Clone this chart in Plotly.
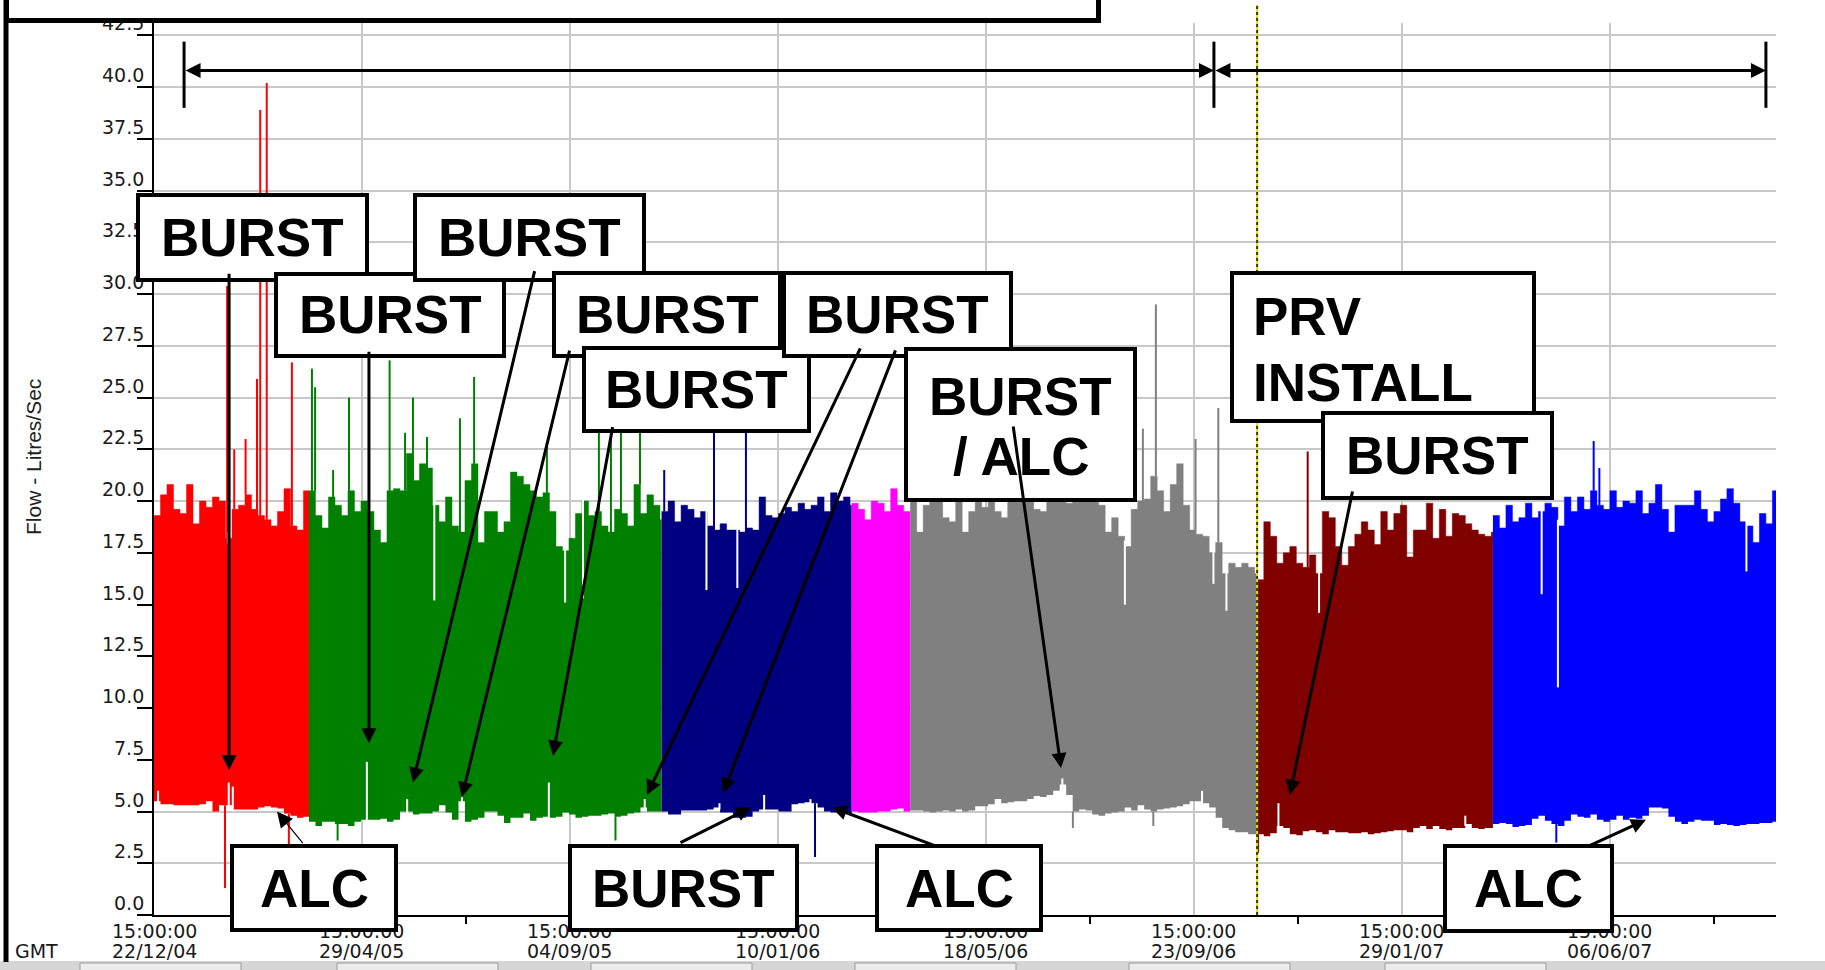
import datetime as dt
import plotly.graph_objects as go

# ---------------------------------------------------------------- time frame
AXIS_START = "2004-12-22 15:00"
AXIS_END = "2007-09-16 20:00"
BIN_DAYS = 4  # each flow bar summarises four days of logger data

tick_dates = ["2004-12-22 15:00", "2005-04-29 15:00", "2005-09-04 15:00",
              "2006-01-10 15:00", "2006-05-18 15:00", "2006-09-23 15:00",
              "2007-01-29 15:00", "2007-06-06 15:00"]
flow_ticks = [0.0, 2.5, 5.0, 7.5, 10.0, 12.5, 15.0, 17.5, 20.0, 22.5,
              25.0, 27.5, 30.0, 32.5, 35.0, 37.5, 40.0, 42.5]

# ---------------------------------------------------------------- periods
segment_starts = ["2004-12-22 15:00", "2005-03-28 00:00", "2005-10-31 00:00",
                  "2006-02-25 00:00", "2006-04-02 00:00", "2006-11-01 15:00",
                  "2007-03-26 15:00"]
segment_ends = segment_starts[1:] + [AXIS_END]
segment_colors = ["#ff0000", "#008000", "#000080", "#ff00ff",
                  "#808080", "#800000", "#0000ff"]

# daytime peak flow (l/s) per 4-day bar
red_peak = [19.3, 20.3, 20.8, 19.6, 19.4, 20.8, 18.9, 20.0, 19.7, 20.2, 20.0, 18.2,
            19.6, 19.8, 20.3, 19.6, 19.3, 19.1, 18.8, 19.5, 20.6, 18.8, 18.6, 20.5]
green_peak = [20.5, 19.3, 18.7, 20.2, 19.8, 19.3, 20.5, 19.5, 20.0, 19.5, 18.6, 18.0,
              20.5, 20.6, 20.5, 22.3, 21.0, 21.8, 21.6, 19.8, 19.0, 20.2, 18.8, 18.5,
              21.0, 21.8, 18.0, 19.5, 19.5, 18.5, 19.0, 21.4, 21.2, 20.8, 20.5, 20.2,
              20.4, 19.5, 17.8, 17.6, 18.2, 19.4, 20.0, 19.3, 19.5, 18.8, 18.5, 19.6,
              19.4, 18.8, 20.8, 19.4, 20.3, 19.8, 19.1]
navy_peak = [19.5, 20.0, 19.0, 19.8, 19.6, 19.2, 19.5, 18.8, 18.6, 18.9, 18.6, 18.6,
             18.5, 18.7, 18.6, 20.2, 19.3, 19.2, 19.4, 19.7, 19.5, 19.9, 19.6, 19.8,
             20.2, 19.5, 20.4, 20.0, 20.2, 19.8]
magenta_peak = [19.9, 19.6, 19.1, 20.0, 19.9, 19.5, 20.6, 19.8, 19.5]
grey_peak = [20.5, 18.5, 19.8, 20.5, 20.5, 19.2, 19.0, 20.5, 18.5, 19.5, 20.5, 19.7,
             20.4, 19.5, 19.2, 20.5, 20.8, 20.5, 20.8, 19.6, 19.5, 20.5, 20.8, 20.6,
             19.9, 20.7, 20.9, 20.6, 20.4, 19.8, 18.5, 19.2, 18.3, 17.8, 19.6, 20.0,
             20.1, 21.2, 20.5, 19.5, 20.8, 21.8, 19.8, 18.6, 18.4, 18.3, 17.5, 18.0,
             16.5, 17.0, 16.8, 17.0, 16.8, 16.5]
maroon_peak = [16.2, 19.0, 18.3, 17.0, 17.5, 17.8, 17.0, 16.8, 17.4, 16.5, 19.5, 19.2,
               17.8, 16.9, 17.8, 18.4, 19.0, 18.6, 17.9, 19.5, 18.6, 19.4, 19.8, 17.3,
               18.6, 18.6, 19.9, 18.2, 19.6, 18.3, 19.4, 19.3, 18.9, 18.6, 18.4, 18.3,
               18.5]
blue_peak = [19.3, 18.7, 19.8, 19.0, 19.2, 19.9, 19.2, 19.5, 19.9, 19.7, 18.8, 20.2,
             19.5, 20.2, 19.6, 20.5, 19.8, 19.6, 20.5, 19.7, 20.0, 19.9, 20.5, 19.4,
             19.9, 20.8, 19.6, 18.5, 19.8, 19.8, 19.8, 20.5, 19.6, 19.0, 19.5, 20.1,
             20.6, 19.9, 19.0, 18.8, 18.0, 19.4, 18.9, 20.5]

# minimum night flow (l/s) per 4-day bar
red_night = [5.5, 5.35, 5.35, 5.3, 5.3, 5.3, 5.3, 5.35, 5.5, 5.0, 5.3, 5.3,
             5.1, 5.1, 5.1, 5.1, 5.2, 5.25, 5.2, 5.15, 4.9, 4.8, 4.7, 4.75]
green_night = [4.5, 4.3, 4.5, 4.5, 4.4, 4.4, 4.3, 4.5, 4.6, 4.6, 4.6, 4.65,
               4.5, 4.6, 5.0, 5.0, 4.85, 4.9, 4.9, 5.0, 5.3, 4.95, 4.6, 5.5,
               4.5, 4.6, 4.7, 5.0, 5.0, 4.8, 4.45, 4.7, 4.7, 4.9, 4.55, 4.7,
               4.75, 4.7, 4.75, 4.95, 4.85, 4.7, 4.75, 4.8, 4.8, 4.85, 4.9, 4.75,
               4.8, 4.9, 4.95, 5.2, 5.0, 5.0, 5.0]
navy_night = [5.0, 4.85, 4.85, 5.05, 5.05, 5.05, 5.05, 5.1, 5.2, 4.95, 4.95, 4.7,
              4.7, 4.75, 5.0, 5.1, 5.1, 5.1, 5.0, 5.0, 5.35, 5.4, 5.45, 5.4,
              5.2, 5.0, 4.95, 4.9, 4.9, 4.9]
magenta_night = [5.0, 4.95, 4.95, 4.95, 5.0, 5.0, 5.1, 5.15, 5.0]
grey_night = [5.05, 5.05, 5.0, 4.95, 5.0, 5.05, 5.0, 5.1, 5.0, 5.05, 5.25, 5.25,
              5.35, 5.6, 5.4, 5.45, 5.5, 5.5, 5.6, 5.75, 5.7, 5.8, 6.0, 6.3,
              5.8, 5.0, 5.1, 5.05, 4.85, 4.8, 4.9, 4.95, 5.0, 5.2, 5.05, 5.3,
              5.1, 5.0, 5.1, 5.15, 5.2, 5.25, 5.35, 5.5, 5.5, 5.4, 5.2, 4.7,
              4.2, 4.1, 4.0, 4.0, 3.9, 3.9]
maroon_night = [3.9, 3.8, 3.95, 4.3, 4.2, 3.9, 3.85, 4.05, 4.1, 4.0, 3.9, 4.1,
                4.0, 4.0, 3.95, 3.95, 4.0, 3.9, 3.95, 4.0, 4.05, 4.1, 4.1, 4.0,
                4.2, 4.3, 4.15, 4.3, 4.15, 4.1, 4.2, 4.2, 4.4, 4.2, 4.15, 4.2,
                4.2]
blue_night = [4.4, 4.45, 4.4, 4.25, 4.3, 4.35, 4.65, 4.8, 4.55, 4.4, 4.3, 4.55,
              4.85, 4.75, 4.7, 4.85, 4.6, 4.5, 4.6, 4.8, 4.6, 4.7, 4.65, 4.8,
              5.2, 5.2, 5.15, 4.75, 4.5, 4.4, 4.5, 4.6, 4.55, 4.55, 4.35, 4.4,
              4.35, 4.3, 4.35, 4.4, 4.4, 4.45, 4.45, 4.5]

peak_flow = [red_peak, green_peak, navy_peak, magenta_peak, grey_peak, maroon_peak, blue_peak]
night_flow = [red_night, green_night, navy_night, magenta_night, grey_night, maroon_night, blue_night]

# short-lived peaks above the daily maximum
spike_dates = ["2005-02-05 15:00", "2005-02-10 00:00", "2005-02-17 00:00", "2005-02-24 00:00",
               "2005-02-26 00:00", "2005-03-02 00:00", "2005-03-17 12:00",
               "2005-03-29 20:00", "2005-03-31 18:00", "2005-04-11 20:00", "2005-04-21 15:00",
               "2005-05-16 15:00", "2005-05-26 03:00", "2005-05-31 00:00", "2005-06-08 15:00",
               "2005-06-28 22:00", "2005-07-07 15:00", "2005-08-21 10:00", "2005-09-22 10:00",
               "2005-09-29 20:00", "2005-10-06 00:00", "2005-10-17 17:00",
               "2005-11-01 15:00", "2005-12-02 06:00", "2005-12-21 22:00",
               "2006-08-23 05:00", "2006-08-31 05:00", "2006-09-24 15:00", "2006-10-08 15:00",
               "2006-12-02 15:00", "2007-05-27 15:00", "2007-05-31 03:00"]
spike_flows = [30.4, 22.5, 23.0, 25.9, 38.9, 40.2, 26.7,
               26.4, 25.5, 21.5, 25.0, 26.8, 23.3, 25.0, 23.1, 24.0, 26.0, 22.8, 24.5,
               25.5, 23.8, 24.5,
               21.5, 24.5, 24.5,
               23.5, 29.5, 23.0, 24.5,
               22.4, 22.9, 21.6]

# readings that fell below the night minimum
dip_dates = ["2005-02-04 08:00", "2005-03-15 15:00", "2005-04-14 15:00", "2005-10-02 15:00",
             "2006-02-02 10:00", "2006-07-11 03:00", "2006-08-29 15:00", "2006-11-02 03:00",
             "2007-05-04 15:00"]
dip_flows = [1.3, 3.4, 3.6, 3.6, 2.8, 4.2, 4.3, 3.0, 3.5]

# days whose daytime maximum stayed well below the bar level
gap_dates = ["2005-02-06 12:00", "2005-06-13 03:00", "2005-09-01 15:00", "2005-09-12 15:00",
             "2005-11-27 15:00", "2005-12-16 15:00", "2006-08-12 03:00", "2006-10-05 15:00",
             "2006-10-13 15:00", "2006-12-09 15:00", "2007-04-25 15:00", "2007-05-05 15:00",
             "2007-08-29 15:00"]
gap_flows = [17.9, 15.2, 15.1, 15.3, 15.7, 15.8, 15.0, 16.0, 14.7, 14.6, 15.5, 11.0, 16.6]

# nights whose minimum rose above the bar level
rise_dates = ["2004-12-25 03:00", "2005-02-06 15:00", "2005-02-09 03:00", "2005-05-02 15:00",
              "2005-05-27 10:00", "2005-06-30 03:00", "2005-08-22 15:00", "2005-10-20 15:00",
              "2005-12-05 15:00", "2006-01-02 03:00", "2006-01-30 15:00", "2006-07-04 15:00",
              "2006-09-28 15:00", "2006-11-14 15:00", "2007-03-09 15:00"]
rise_flows = [6.0, 6.4, 6.2, 7.4, 5.6, 5.7, 6.4, 5.6, 5.4, 5.8, 5.6, 6.6, 6.0, 5.4, 4.8]

# ---------------------------------------------------------------- annotations
period_marks = ["2005-01-10 03:00", "2006-10-05 22:00", "2007-09-10 15:00"]
prv_install_date = "2006-11-01 12:00"

# text boxes: (lines, left, top, right, bottom) in page pixels
label_boxes = [
    (["BURST"], 136, 193, 369, 282),
    (["BURST"], 274, 272, 506, 358),
    (["BURST"], 413, 193, 646, 282),
    (["BURST"], 552, 271, 782, 358),
    (["BURST"], 582, 346, 811, 433),
    (["BURST"], 782, 271, 1013, 358),
    (["BURST", "/ ALC"], 904, 347, 1137, 502),
    (["PRV", "INSTALL"], 1230, 271, 1536, 423),
    (["BURST"], 1321, 411, 1554, 500),
    (["ALC"], 230, 844, 398, 932),
    (["BURST"], 568, 844, 799, 932),
    (["ALC"], 875, 844, 1043, 932),
    (["ALC"], 1443, 844, 1614, 933),
]

# pointers: (target date, target flow, tail dx px, tail dy px, line width)
pointers = [
    ("2005-02-06 20:00", 7.0, 0, -498, 3),
    ("2005-05-03 22:00", 8.3, 0, -393, 3),
    ("2005-05-31 00:00", 6.4, 122, -513, 3),
    ("2005-06-30 03:00", 5.7, 108, -448, 3),
    ("2005-08-25 03:00", 7.7, 60, -330, 3),
    ("2005-10-22 00:30", 5.8, 214, -448, 3),
    ("2005-12-07 20:00", 5.9, 173, -444, 3),
    ("2006-07-03 20:00", 7.1, -48, -343, 3),
    ("2006-11-21 15:00", 5.8, 63, -305, 3),
    ("2005-03-08 08:00", 5.0, 27, 33, 1.2),
    ("2005-12-25 00:30", 5.2, -72, 36, 3),
    ("2006-02-12 20:00", 5.2, 105, 39, 3),
    ("2007-06-28 20:00", 4.6, -59, 27, 3),
]

# ---------------------------------------------------------------- page geometry
W, H = 1825, 970
PL, PR, PT, PB = 154, 1776, 23, 915
Y_MAX = 43.1


def fx(p):
    return (p - PL) / (PR - PL)


def fy(p):
    return (PB - p) / (PB - PT)


def parse(s):
    return dt.datetime.strptime(s, "%Y-%m-%d %H:%M")


seg_start = [parse(s) for s in segment_starts]
seg_end = [parse(s) for s in segment_ends]
step = dt.timedelta(days=BIN_DAYS)


def locate(t):
    for i in range(len(seg_start)):
        if seg_start[i] <= t < seg_end[i]:
            k = int((t - seg_start[i]) / step)
            return i, min(k, len(peak_flow[i]) - 1)
    return len(seg_start) - 1, len(peak_flow[-1]) - 1


fig = go.Figure()

# flow envelope: night minimum up to daytime peak, one colour per period
for i, colour in enumerate(segment_colors):
    peaks, nights = peak_flow[i], night_flow[i]
    xs = [seg_start[i] + k * step for k in range(len(peaks))] + [seg_end[i]]
    fig.add_trace(go.Scatter(x=xs, y=nights + [nights[-1]], mode="lines",
                             line=dict(width=0, shape="hv", color=colour),
                             hoverinfo="skip", showlegend=False))
    fig.add_trace(go.Scatter(x=xs, y=peaks + [peaks[-1]], mode="lines",
                             line=dict(width=0.5, shape="hv", color=colour),
                             fill="tonexty", fillcolor=colour,
                             hoverinfo="skip", showlegend=False))

# coloured spikes and dips
seg_lines = {i: ([], []) for i in range(len(segment_colors))}
for d, v in zip(spike_dates, spike_flows):
    t = parse(d)
    i, k = locate(t)
    seg_lines[i][0].extend([t, t, None])
    seg_lines[i][1].extend([peak_flow[i][k], v, None])
for d, v in zip(dip_dates, dip_flows):
    t = parse(d)
    i, k = locate(t)
    seg_lines[i][0].extend([t, t, None])
    seg_lines[i][1].extend([night_flow[i][k], v, None])
for i, (xs, ys) in seg_lines.items():
    if xs:
        fig.add_trace(go.Scatter(x=xs, y=ys, mode="lines",
                                 line=dict(width=2, color=segment_colors[i]),
                                 hoverinfo="skip", showlegend=False))

# white notches where the max fell or the night flow rose
wx, wy = [], []
for d, v in zip(gap_dates, gap_flows):
    t = parse(d)
    i, k = locate(t)
    wx.extend([t, t, None])
    wy.extend([v, peak_flow[i][k] + 0.3, None])
for d, v in zip(rise_dates, rise_flows):
    t = parse(d)
    i, k = locate(t)
    wx.extend([t, t, None])
    wy.extend([night_flow[i][k] - 0.1, v, None])
fig.add_trace(go.Scatter(x=wx, y=wy, mode="lines", line=dict(width=2, color="white"),
                         hoverinfo="skip", showlegend=False))

shapes = []
annotations = []
tick_font = dict(family="DejaVu Sans", size=19, color="#1a1a1a")

# status strip and frame line
shapes.append(dict(type="rect", xref="paper", yref="paper", layer="above",
                   x0=fx(-20), x1=fx(W + 20), y0=fy(961), y1=fy(990),
                   fillcolor="#d6d6d6", line=dict(width=0)))
for bx in [80, 337, 591, 855, 1129, 1385]:
    shapes.append(dict(type="rect", xref="paper", yref="paper", layer="above",
                       x0=fx(bx), x1=fx(bx + 161), y0=fy(963), y1=fy(985),
                       fillcolor="#ececec", line=dict(width=1, color="#9a9a9a")))
shapes.append(dict(type="line", xref="paper", yref="paper", layer="above",
                   x0=fx(6), x1=fx(6), y0=fy(-5), y1=fy(962),
                   line=dict(width=5, color="black")))

# PRV installation marker
prv_t = parse(prv_install_date)
for colour, dash in [("#e0e000", "solid"), ("#3a3a00", "dot")]:
    shapes.append(dict(type="line", xref="x", yref="paper", layer="above",
                       x0=prv_t, x1=prv_t, y0=0, y1=fy(5),
                       line=dict(width=2, color=colour, dash=dash)))

# period bars and double arrows
for d in period_marks:
    shapes.append(dict(type="line", xref="x", yref="y", layer="above",
                       x0=d, x1=d, y0=39.0, y1=42.2,
                       line=dict(width=3, color="black")))
for a, b in [(period_marks[0], period_marks[1]), (period_marks[1], period_marks[2])]:
    annotations.append(dict(x=b, y=40.8, ax=a, ay=40.8, xref="x", yref="y",
                            axref="x", ayref="y", text="", showarrow=True,
                            arrowside="end+start", arrowhead=2, startarrowhead=2,
                            arrowwidth=3, arrowsize=1, startarrowsize=1,
                            arrowcolor="black", standoff=0, startstandoff=0))

# flow tick labels, printed a little above their tick marks
for v in flow_ticks:
    annotations.append(dict(x=fx(146), y=v, xref="paper", yref="y", yshift=12,
                            text=f"{v:.1f}", showarrow=False, xanchor="right",
                            yanchor="middle", font=tick_font))

# time tick labels: clock line and date line
for d in tick_dates:
    t = parse(d)
    annotations.append(dict(x=t, y=fy(931), xref="x", yref="paper",
                            text=t.strftime("%H:%M:%S"), showarrow=False,
                            xanchor="center", yanchor="middle", font=tick_font))
    annotations.append(dict(x=t, y=fy(951), xref="x", yref="paper",
                            text=t.strftime("%d/%m/%y"), showarrow=False,
                            xanchor="center", yanchor="middle", font=tick_font))
annotations.append(dict(x=fx(36), y=fy(951), xref="paper", yref="paper", text="GMT",
                        showarrow=False, xanchor="center", yanchor="middle",
                        font=tick_font))

# header box across the top
annotations.append(dict(x=fx(3.5), y=fy(23), xref="paper", yref="paper", text=" ",
                        showarrow=False, xanchor="left", yanchor="bottom",
                        width=1087, height=53, bgcolor="white", bordercolor="black",
                        borderwidth=5, borderpad=0))

# label boxes, each drawn over the previous one
label_font = dict(family="Liberation Sans, Arial", size=53, color="black", weight="bold")
BW = 4
for lines, left, top, right, bottom in label_boxes:
    annotations.append(dict(x=fx(left), y=fy(top), xref="paper", yref="paper", text=" ",
                            showarrow=False, xanchor="left", yanchor="top",
                            width=right - left - 2 * BW, height=bottom - top - 2 * BW,
                            bgcolor="white", bordercolor="black", borderwidth=BW,
                            borderpad=0))
    if lines[0] == "PRV":
        for j, txt in enumerate(lines):
            annotations.append(dict(x=fx(1251), y=fy(317 + 65 * j), xref="paper",
                                    yref="paper", text=txt, showarrow=False,
                                    xanchor="left", yanchor="middle", font=label_font))
    elif len(lines) == 2:
        for j, txt in enumerate(lines):
            annotations.append(dict(x=fx((left + right) / 2), y=fy(396 + 61 * j),
                                    xref="paper", yref="paper", text=txt, showarrow=False,
                                    xanchor="center", yanchor="middle", font=label_font))
    else:
        annotations.append(dict(x=fx((left + right) / 2), y=fy((top + bottom) / 2),
                                xref="paper", yref="paper", text=lines[0],
                                showarrow=False, xanchor="center", yanchor="middle",
                                font=label_font))

# pointers drawn over the boxes
for d, v, dx, dy, w in pointers:
    annotations.append(dict(x=d, y=v, xref="x", yref="y", ax=dx, ay=dy, text="",
                            showarrow=True, arrowhead=2, arrowwidth=w,
                            arrowsize=1 if w >= 2 else 2.6,
                            arrowcolor="black", standoff=0))

# axis title
annotations.append(dict(x=fx(34), y=fy(457), xref="paper", yref="paper",
                        text="Flow - Litres/Sec", textangle=-90, showarrow=False,
                        xanchor="center", yanchor="middle",
                        font=dict(family="Liberation Sans, Arial", size=21, color="#222222")))

minor_ticks = [parse(d) + dt.timedelta(days=64) for d in tick_dates]

fig.update_layout(
    width=W, height=H,
    margin=dict(l=PL, r=W - PR, t=PT, b=H - PB),
    paper_bgcolor="white", plot_bgcolor="white",
    showlegend=False, hovermode=False,
    shapes=shapes, annotations=annotations,
    xaxis=dict(type="date", range=[AXIS_START, AXIS_END],
               tickmode="array", tickvals=tick_dates, ticks="", showticklabels=False,
               showgrid=True, gridcolor="#c8c8c8", gridwidth=2,
               showline=True, linecolor="black", linewidth=2, zeroline=False,
               minor=dict(tickmode="array", tickvals=minor_ticks, ticks="outside",
                          ticklen=7, tickwidth=2, tickcolor="black", showgrid=False)),
    yaxis=dict(range=[0, Y_MAX], tickmode="array", tickvals=flow_ticks,
               showticklabels=False,
               showgrid=True, gridcolor="#c8c8c8", gridwidth=2, zeroline=False,
               showline=True, linecolor="black", linewidth=2,
               ticks="outside", ticklen=15, tickwidth=1.5, tickcolor="black"),
)

fig.write_html("out.html")
